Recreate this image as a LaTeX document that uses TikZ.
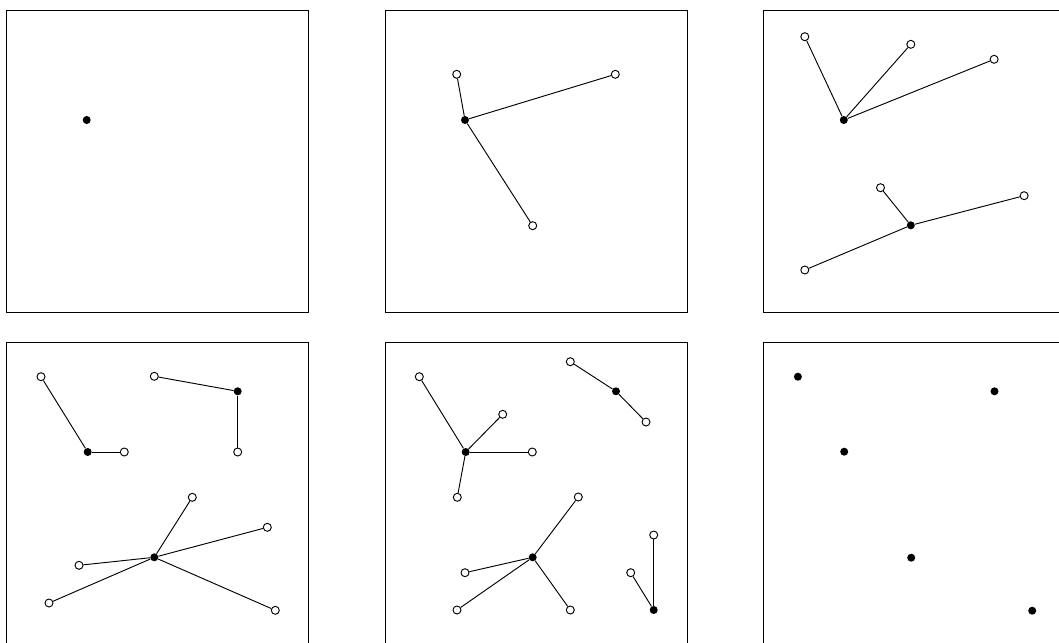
\documentclass[tikz,border=0pt]{standalone}
\usetikzlibrary{positioning}
\begin{document}
\begin{tikzpicture}[
        x=0.75pt, y=-0.75pt,
        panel/.style={draw, line width=0.75pt},
        hub/.style={circle, fill=black, inner sep=0pt, minimum size=6pt},
        leaf/.style={circle, draw, fill=white, inner sep=0pt, minimum size=6pt, line width=0.7pt},
        link/.style={line width=0.7pt}
    ]
    \clip (0,0) rectangle (1059,642);
    % Quadros
    \foreach \px/\py in {6.7/10.7, 385/10.7, 763.5/10.7, 6.7/342.7, 385/342.7, 763.5/342.7} {
        \draw[panel] (\px,\py) rectangle ++(302,302);
    }
    % Quadro 1
    \begin{scope}[shift={(6.7,10.7)}]
        \node[hub] (p1a) at (80,109.3) {};
    \end{scope}
    % Quadro 2
    \begin{scope}[shift={(385,10.7)}]
        \node[hub] (p2a) at (80,109.3) {};
        \foreach \n/\x/\y in {1/71.7/63.6, 2/230.3/63.6, 3/147.7/215} {
            \node[leaf] (p2a\n) at (\x,\y) {};
            \draw[link] (p2a) -- (p2a\n);
        }
    \end{scope}
    % Quadro 3
    \begin{scope}[shift={(763.5,10.7)}]
        \node[hub] (p3a) at (80.3,109.3) {};
        \foreach \n/\x/\y in {1/41.3/26, 2/147.3/33.6, 3/230.6/48.6} {
            \node[leaf] (p3a\n) at (\x,\y) {};
            \draw[link] (p3a) -- (p3a\n);
        }
        \node[hub] (p3b) at (147.3,214.6) {};
        \foreach \n/\x/\y in {1/117/177, 2/260.6/185, 3/41.3/259.3} {
            \node[leaf] (p3b\n) at (\x,\y) {};
            \draw[link] (p3b) -- (p3b\n);
        }
    \end{scope}
    % Quadro 4
    \begin{scope}[shift={(6.7,342.7)}]
        \node[hub] (p4a) at (81,109.3) {};
        \foreach \n/\x/\y in {1/34.3/34, 2/117.6/109.3} {
            \node[leaf] (p4a\n) at (\x,\y) {};
            \draw[link] (p4a) -- (p4a\n);
        }
        \node[hub] (p4b) at (231,48.6) {};
        \foreach \n/\x/\y in {1/147.6/33.6, 2/231/109.3} {
            \node[leaf] (p4b\n) at (\x,\y) {};
            \draw[link] (p4b) -- (p4b\n);
        }
        \node[hub] (p4c) at (147.6,214.6) {};
        \foreach \n/\x/\y in {1/185.6/154.6, 2/260.6/184.6, 3/72.3/222.6, 4/42.3/260.3, 5/268.6/267.6} {
            \node[leaf] (p4c\n) at (\x,\y) {};
            \draw[link] (p4c) -- (p4c\n);
        }
    \end{scope}
    % Quadro 5
    \begin{scope}[shift={(385,342.7)}]
        \node[hub] (p5a) at (80.7,109.3) {};
        \foreach \n/\x/\y in {1/34.3/34, 2/117.7/71.6, 3/147.3/109.3, 4/72.3/154.6} {
            \node[leaf] (p5a\n) at (\x,\y) {};
            \draw[link] (p5a) -- (p5a\n);
        }
        \node[hub] (p5b) at (231,48.6) {};
        \foreach \n/\x/\y in {1/185.3/19, 2/261/79.3} {
            \node[leaf] (p5b\n) at (\x,\y) {};
            \draw[link] (p5b) -- (p5b\n);
        }
        \node[hub] (p5c) at (147.7,214.6) {};
        \foreach \n/\x/\y in {1/193.3/154.3, 2/80/230, 3/72/267.3, 4/185.3/267.3} {
            \node[leaf] (p5c\n) at (\x,\y) {};
            \draw[link] (p5c) -- (p5c\n);
        }
        \node[hub] (p5d) at (268.7,267.3) {};
        \foreach \n/\x/\y in {1/268.7/192.3, 2/245.7/230} {
            \node[leaf] (p5d\n) at (\x,\y) {};
            \draw[link] (p5d) -- (p5d\n);
        }
    \end{scope}
    % Quadro 6
    \begin{scope}[shift={(763.5,342.7)}]
        \foreach \n/\x/\y in {a/34.4/34, b/231/48.6, c/80.7/109, d/147.7/215, e/268.7/268} {
            \node[hub] (p6\n) at (\x,\y) {};
        }
    \end{scope}
\end{tikzpicture}
\end{document}
